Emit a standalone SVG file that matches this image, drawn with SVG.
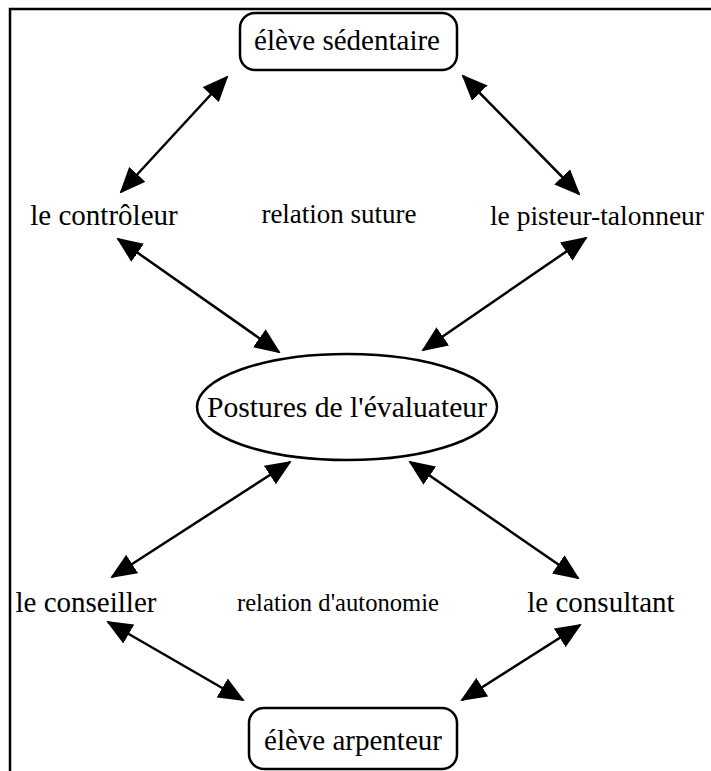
<svg xmlns="http://www.w3.org/2000/svg" width="711" height="771" viewBox="0 0 711 771">
<style>
text{font-family:"Liberation Serif","Times New Roman",serif;font-size:29px;fill:#000;text-anchor:middle}
.shape{fill:#fff;stroke:#000;stroke-width:2.5}
.conn line{stroke:#000;stroke-width:2.5;marker-start:url(#ah);marker-end:url(#ah)}
</style>
<defs>
<marker id="ah" markerUnits="userSpaceOnUse" markerWidth="26" markerHeight="22" viewBox="0 0 26 22" refX="24" refY="11" orient="auto-start-reverse">
<path d="M0,0 L26,11 L0,22 z" fill="#000"/>
</marker>
</defs>
<rect width="711" height="771" fill="#fff"/>
<path d="M10,771 L10,9 L711,9" fill="none" stroke="#000" stroke-width="2.5"/>
<g id="sedentaire">
<rect class="shape" x="240" y="13" width="217" height="57" rx="15"/>
<text x="347" y="50">élève sédentaire</text>
</g>
<g id="controleur"><text x="104" y="225">le contrôleur</text></g>
<g id="suture"><text x="339" y="223" style="font-size:27px">relation suture</text></g>
<g id="pisteur"><text x="597" y="225" style="font-size:27.5px">le pisteur-talonneur</text></g>
<g id="postures">
<ellipse class="shape" cx="347" cy="407" rx="150" ry="53"/>
<text x="347" y="417" textLength="280" lengthAdjust="spacingAndGlyphs">Postures de l'évaluateur</text>
</g>
<g id="conseiller"><text x="86" y="612">le conseiller</text></g>
<g id="autonomie"><text x="338" y="611" style="font-size:26px" textLength="202" lengthAdjust="spacingAndGlyphs">relation d'autonomie</text></g>
<g id="consultant"><text x="601" y="612">le consultant</text></g>
<g id="arpenteur">
<rect class="shape" x="249" y="708" width="208" height="61" rx="15"/>
<text x="353" y="750">élève arpenteur</text>
</g>
<g class="conn">
<line x1="227" y1="77" x2="121" y2="192"/>
<line x1="118" y1="239" x2="279" y2="352"/>
<line x1="463" y1="76" x2="579" y2="194"/>
<line x1="586" y1="238" x2="423" y2="350"/>
<line x1="290" y1="462" x2="112" y2="577"/>
<line x1="410" y1="462" x2="578" y2="578"/>
<line x1="108" y1="622" x2="243" y2="700"/>
<line x1="580" y1="625" x2="462" y2="700"/>
</g>
</svg>
